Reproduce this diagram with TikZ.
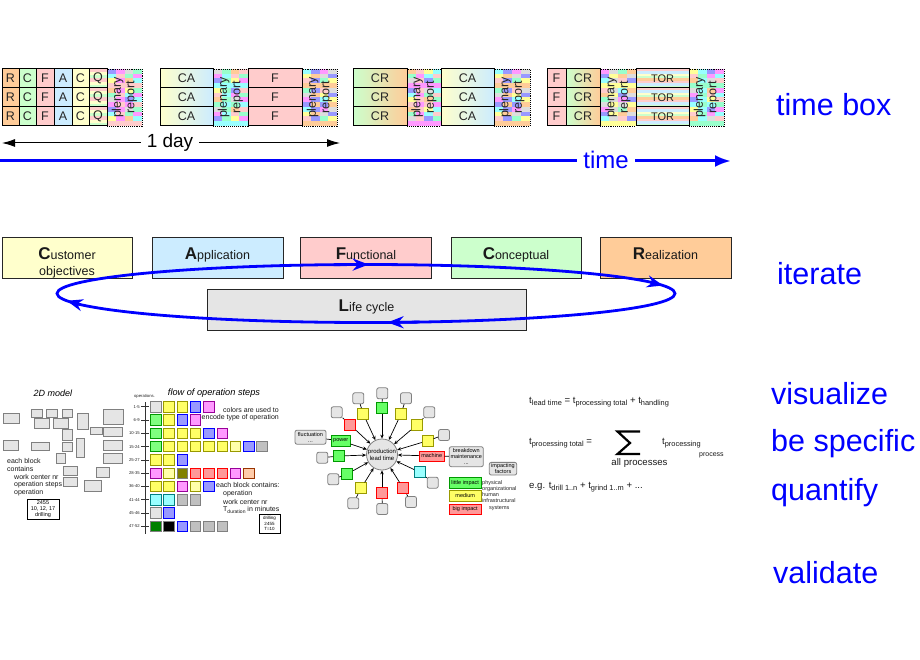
\documentclass[tikz,border=0pt]{standalone}
\usepackage{fontspec}
\setmainfont{Liberation Sans}
\usetikzlibrary{arrows.meta}

\definecolor{cR}{HTML}{FFCC99}
\definecolor{cC}{HTML}{CCFFCC}
\definecolor{cF}{HTML}{FFCCCC}
\definecolor{cA}{HTML}{CCECFF}
\definecolor{cY}{HTML}{FFFFCC}
\definecolor{cL}{HTML}{E5E5E5}
\definecolor{bl}{HTML}{0000FF}
\definecolor{gb}{HTML}{808080}
\definecolor{pc0}{HTML}{FF99FF}
\definecolor{pc1}{HTML}{FFFF99}
\definecolor{pc2}{HTML}{99FFCC}
\definecolor{pc3}{HTML}{9999FF}
\definecolor{pc4}{HTML}{FFCCCC}
\definecolor{pc5}{HTML}{DDDDDD}
\definecolor{pc6}{HTML}{99FFFF}
\definecolor{pc7}{HTML}{FFCC99}
\definecolor{fY}{HTML}{FFFF66}
\definecolor{fYd}{HTML}{999900}
\definecolor{fLY}{HTML}{FFFFAA}
\definecolor{fG}{HTML}{80FF80}
\definecolor{fGd}{HTML}{009900}
\definecolor{fB}{HTML}{9999FF}
\definecolor{fBd}{HTML}{0000FF}
\definecolor{fP}{HTML}{FF99FF}
\definecolor{fPd}{HTML}{990099}
\definecolor{fGr}{HTML}{C0C0C0}
\definecolor{fR}{HTML}{FF9999}
\definecolor{fRd}{HTML}{FF0000}
\definecolor{fS}{HTML}{FFCCAA}
\definecolor{fSd}{HTML}{993300}
\definecolor{fO}{HTML}{808000}
\definecolor{fDG}{HTML}{008000}
\definecolor{fCy}{HTML}{99FFFF}
\definecolor{fCyd}{HTML}{008080}
\definecolor{stG}{HTML}{66FF66}

\newcommand\cellbox[7]{\node[cell,#6,minimum width={#4-#2},minimum height={#5-#3},anchor=north west] (#1) at (#2,#3) {#7};}
\newcommand\hstripes[6]{%
  \foreach \cc [count=\k from 0] in {#6}{%
    \fill[fill=\cc] (#1,{#2+(#4-#2)*\k/#5}) rectangle (#3,{#2+(#4-#2)*(\k+1)/#5});
  }}
\newcommand\plenary[5]{%
  \begin{scope}
    \clip (#1,#2) rectangle (#3,#4);
    \foreach \i in {0,...,3}{\foreach \j in {0,...,11}{%
      \pgfmathtruncatemacro\kk{mod(\i*5+\j*3+\i*\j+#1,8)}%
      \fill[fill=pc\kk] ({#1+\i*(#3-#1)/4},{#2+\j*(#4-#2)/12}) rectangle ({#1+(\i+1)*(#3-#1)/4},{#2+(\j+1)*(#4-#2)/12});
    }}
  \end{scope}
  \node[plen, minimum width={#3-#1}, minimum height={#4-#2}, anchor=north west] (#5) at (#1,#2) {};
  \node[pltext, rotate=90] (#5t) at ({(#1+#3)/2},{(#2+#4)/2}) {plenary\\report};
}
\newcommand\ini[1]{{\fontsize{17}{17}\selectfont\bfseries #1}}
\newcommand\fsub[1]{\raisebox{-2.6pt}{\fontsize{7.4}{8}\selectfont #1}}
\newcommand\tsub[1]{\raisebox{-1.8pt}{\fontsize{5}{6}\selectfont #1}}
\newcommand\fsq[3]{\draw[#3] ({150.5+13.3*#1},{401.5+13.3*#2}) rectangle ++(10.5,10.5);}
\newcommand\stf{\fontsize{5.5}{6.25}\selectfont}
\newcommand\elco[2]{\coordinate (#1) at ({366+309*cos(#2)},{293.5+29*sin(#2)});}

\begin{document}
\begin{tikzpicture}[x=1pt,y=-1pt,
  cell/.style={draw=black, line width=1pt, inner sep=0pt, outer sep=0pt, text=black!85, font=\fontsize{12.5}{14}\selectfont},
  plen/.style={draw=black, densely dotted, line width=0.9pt, inner sep=0pt, outer sep=0pt},
  pltext/.style={font=\fontsize{12.5}{13.5}\selectfont, align=center, inner sep=0pt, text=black!85},
  mbox/.style={draw=black!85, line width=1pt, inner sep=0pt, anchor=north west},
  mtxt/.style={font=\fontsize{12.5}{14}\selectfont, anchor=base, inner sep=0pt, text=black!90},
  bigword/.style={font=\fontsize{30.5}{34}\selectfont, text=bl, anchor=base west, inner sep=0pt},
  grect/.style={fill=cL, draw=gb, line width=1pt},
  small/.style={font=\fontsize{7}{8}\selectfont, inner sep=0pt, text=black!90},
  tiny/.style={font=\fontsize{4.2}{5}\selectfont, inner sep=0pt, text=black!85},
  qLG/.style={fill=cL, draw=gb, line width=1pt},
  qY/.style={fill=fY, draw=fYd, line width=1pt},
  qLY/.style={fill=fLY, draw=fYd, line width=1pt},
  qG/.style={fill=fG, draw=fGd, line width=1pt},
  qB/.style={fill=fB, draw=fBd, line width=1pt},
  qP/.style={fill=fP, draw=fPd, line width=1pt},
  qGr/.style={fill=fGr, draw=gb, line width=1pt},
  qR/.style={fill=fR, draw=fRd, line width=1pt},
  qS/.style={fill=fS, draw=fSd, line width=1pt},
  qO/.style={fill=fO, draw=gb, line width=1pt},
  qDG/.style={fill=fDG, draw=gb, line width=1pt},
  qK/.style={fill=black, draw=gb, line width=1pt},
  qC/.style={fill=fCy, draw=fCyd, line width=1pt},
  sgG/.style={draw=fGd, fill=stG, minimum size=11pt, inner sep=0pt, line width=0.8pt, font=\stf},
  sgY/.style={draw=fYd, fill=fY, minimum size=11pt, inner sep=0pt, line width=0.8pt, font=\stf},
  sgR/.style={draw=fRd, fill=fR, minimum size=11pt, inner sep=0pt, line width=0.8pt, font=\stf},
  sgC/.style={draw=fCyd, fill=fCy, minimum size=11pt, inner sep=0pt, line width=0.8pt},
  sgray/.style={draw=gb, fill=cL, rounded corners=2pt, minimum size=11pt, inner sep=0pt, line width=0.8pt, font=\stf, align=center},
  sline/.style={draw=black, line width=0.7pt},
  sarr/.style={draw=black, line width=0.7pt, -{Stealth[length=4pt,width=3.5pt]}},
  ftxt/.style={font=\fontsize{9.6}{11}\selectfont, inner sep=0pt, anchor=west, text=black!90},
  elarr/.style={bl, line width=2.8pt, -{Stealth[length=16pt,width=12pt]}}
]
\useasboundingbox (0,0) rectangle (920,660);
\fill[white] (0,0) rectangle (920,660);

% ---------------- time boxes ----------------
\plenary{107}{69}{142}{126}{p1}
\plenary{213}{69}{248}{126}{p2}
\plenary{302}{69}{337}{126}{p3}
\plenary{407}{69}{441}{126}{p4}
\plenary{494}{69}{530}{126}{p5}
\plenary{600}{69}{636}{126}{p6}
\plenary{689}{69}{724}{126}{p7}
\foreach \ya/\yb/\r in {69/88/1,88/107/2,107/126/3}{%
  \hstripes{89}{\ya}{107}{\yb}{6}{cF,cY,cC,cF,cY,cC}
  \hstripes{636}{\ya}{689}{\yb}{8}{cF,cA,cY,cC,cR,cF,cA,cC}
  \cellbox{aR\r}{2}{\ya}{19}{\yb}{fill=cR}{R}
  \cellbox{aC\r}{19}{\ya}{36}{\yb}{fill=cC}{C}
  \cellbox{aF\r}{36}{\ya}{54}{\yb}{fill=cF}{F}
  \cellbox{aA\r}{54}{\ya}{72}{\yb}{fill=cA}{A}
  \cellbox{aY\r}{72}{\ya}{89}{\yb}{fill=cY}{C}
  \cellbox{aQ\r}{89}{\ya}{107}{\yb}{}{Q}
  \cellbox{bCA\r}{160}{\ya}{213}{\yb}{left color=cY,right color=cA}{CA}
  \cellbox{bF\r}{248}{\ya}{302}{\yb}{fill=cF}{F}
  \cellbox{cCR\r}{353}{\ya}{407}{\yb}{left color=cC,right color=cR}{CR}
  \cellbox{cCA\r}{441}{\ya}{494}{\yb}{left color=cY,right color=cA}{CA}
  \cellbox{dF\r}{547}{\ya}{566}{\yb}{fill=cF}{F}
  \cellbox{dCR\r}{566}{\ya}{600}{\yb}{left color=cC,right color=cR}{CR}
  \cellbox{dT\r}{636}{\ya}{689}{\yb}{font=\fontsize{11}{12}\selectfont}{TOR}
}

% 1 day
\coordinate (d0) at (2,143);
\coordinate (d1) at (340,143);
\draw[line width=1pt, {Latex[length=13pt,width=8pt]}-{Latex[length=13pt,width=8pt]}] (d0) -- (d1);
\node[fill=white, inner xsep=6pt, inner ysep=1pt, font=\fontsize{19}{22}\selectfont] (oneday) at (170,143) {1 day};

% time
\coordinate (t0) at (0,161);
\coordinate (t1) at (731,161);
\draw[bl, line width=3pt, -{Latex[length=16pt,width=12pt]}] (t0) -- (t1);
\node[fill=white, text=bl, inner xsep=6pt, inner ysep=1pt, font=\fontsize{24}{26}\selectfont] (timelbl) at (606,160) {time};

% ---------------- iterate ----------------
\node[mbox, fill=cY, minimum width=130pt, minimum height=41pt] (cust) at (2,237) {};
\node[mbox, fill=cA, minimum width=131pt, minimum height=41pt] (appl) at (152,237) {};
\node[mbox, fill=cF, minimum width=131pt, minimum height=41pt] (func) at (300,237) {};
\node[mbox, fill=cC, minimum width=130pt, minimum height=41pt] (conc) at (451,237) {};
\node[mbox, fill=cR, minimum width=131pt, minimum height=41pt] (real) at (600,237) {};
\node[mbox, fill=cL, minimum width=319pt, minimum height=41pt] (life) at (207,289) {};
\node[mtxt] (custa) at (67,259) {\ini{C}ustomer};
\node[mtxt] (custb) at (67,276) {objectives};
\node[mtxt] (applt) at (217.5,259) {\ini{A}pplication};
\node[mtxt] (funct) at (366,259) {\ini{F}unctional};
\node[mtxt] (conct) at (516,259) {\ini{C}onceptual};
\node[mtxt] (realt) at (665.5,259) {\ini{R}ealization};
\node[mtxt] (lifet) at (366.5,311) {\ini{L}ife cycle};

\coordinate (ec) at (366,293.5);
\draw[bl, line width=2.8pt] (ec) ellipse [x radius=309pt, y radius=29pt];
\elco{ea0}{264}
\elco{ea1}{270.5}
\elco{eb0}{337}
\elco{eb1}{344}
\elco{ec0}{80}
\elco{ec1}{86}
\elco{ed0}{158}
\elco{ed1}{165.5}
\draw[elarr] (ea0) -- (ea1);
\draw[elarr] (eb0) -- (eb1);
\draw[elarr] (ec0) -- (ec1);
\draw[elarr] (ed0) -- (ed1);

% ---------------- 2D model ----------------
\node[font=\fontsize{9}{10}\selectfont\itshape, inner sep=0pt] (m2dt) at (53,393) {2D model};
\foreach \a/\b/\c/\d in {3/413/19/423, 31/409/42/417, 46/409/57/417, 62/409/72/417,
  34/418/49/428, 53/418/68/428, 77/413/88/429, 103/409/123/424, 90/427/102/434,
  103/427/122/436, 62/429/72/440, 3/440/18/450, 31/442/49/450, 62/442/72/451,
  76/438/84/457, 103/440/122/450, 56/453/65/463, 103/453/122/463, 63/466/77/475,
  96/467/109/477, 63/477/77/486, 84/480/101/491}{%
  \draw[grect] (\a,\b) rectangle (\c,\d);
}
\node[small, anchor=west] (m2a) at (7,461) {each block};
\node[small, anchor=west] (m2b) at (7,469) {contains};
\node[small, anchor=west] (m2c) at (14,477) {work center nr};
\node[small, anchor=west] (m2d) at (14,485) {operation steps};
\node[small, anchor=west] (m2e) at (14,493) {operation};
\node[draw=black, line width=1pt, minimum width=32pt, minimum height=20pt, inner sep=0pt, align=center,
  font=\fontsize{5.5}{6}\selectfont] (m2box) at (43,509) {2455\\10, 12, 17\\drilling};

% ---------------- flow of operation steps ----------------
\node[font=\fontsize{9.2}{10}\selectfont\itshape, inner sep=0pt] (flt) at (214,393) {flow of operation steps};
\node[tiny] (opsl) at (144.5,396) {operations.};
\draw[line width=0.9pt, black!80] (145,402) -- (145,534);
\foreach \l [count=\r from 0] in {1-5,6-9,10-15,15-24,25-27,28-35,36-40,41-44,45-46,47-52}{%
  \draw[line width=0.9pt, black!80] (141,{406.75+13.3*\r}) -- (149,{406.75+13.3*\r});
  \node[tiny, anchor=east] (rl\r) at (140,{406.75+13.3*\r}) {\l};
}
\fsq{0}{0}{qLG}\fsq{1}{0}{qY}\fsq{2}{0}{qY}\fsq{3}{0}{qB}\fsq{4}{0}{qP}
\fsq{0}{1}{qG}\fsq{1}{1}{qY}\fsq{2}{1}{qB}\fsq{3}{1}{qP}
\fsq{0}{2}{qG}\fsq{1}{2}{qY}\fsq{2}{2}{qY}\fsq{3}{2}{qY}\fsq{4}{2}{qB}\fsq{5}{2}{qP}
\fsq{0}{3}{qG}\fsq{1}{3}{qY}\fsq{2}{3}{qY}\fsq{3}{3}{qY}\fsq{4}{3}{qY}\fsq{5}{3}{qY}\fsq{6}{3}{qLY}\fsq{7}{3}{qB}\fsq{8}{3}{qGr}
\fsq{0}{4}{qY}\fsq{1}{4}{qY}\fsq{2}{4}{qB}
\fsq{0}{5}{qP}\fsq{1}{5}{qLY}\fsq{2}{5}{qO}\fsq{3}{5}{qR}\fsq{4}{5}{qR}\fsq{5}{5}{qR}\fsq{6}{5}{qP}\fsq{7}{5}{qS}
\fsq{0}{6}{qY}\fsq{1}{6}{qY}\fsq{2}{6}{qP}\fsq{3}{6}{qLY}\fsq{4}{6}{qB}
\fsq{0}{7}{qC}\fsq{1}{7}{qC}\fsq{2}{7}{qGr}\fsq{3}{7}{qGr}
\fsq{0}{8}{qLG}\fsq{1}{8}{qB}
\fsq{0}{9}{qDG}\fsq{1}{9}{qK}\fsq{2}{9}{qB}\fsq{3}{9}{qGr}\fsq{4}{9}{qGr}\fsq{5}{9}{qGr}
\node[small, anchor=east] (fla) at (279,410) {colors are used to};
\node[small, anchor=east] (flb) at (279,418) {encode type of operation};
\node[small, anchor=west] (flc) at (216,485) {each block contains:};
\node[small, anchor=west] (fld) at (223,494) {operation};
\node[small, anchor=west] (fle) at (223,502) {work center nr};
\node[small, anchor=west] (flf) at (223,510) {T\tsub{duration} in minutes};
\node[draw=black, line width=1pt, minimum width=21pt, minimum height=19pt, inner sep=0pt, align=center,
  font=\fontsize{4.5}{5.5}\selectfont] (flbox) at (269.5,523.5) {drilling\\2455\\T=10};

% ---------------- star diagram ----------------
\node[circle, draw=gb, fill=cL, line width=0.8pt, minimum size=31pt, inner sep=0pt, align=center,
  font=\fontsize{6}{7}\selectfont] (pc) at (382,454.5) {production\\lead time};
\node[sgG] (s1) at (382,408.3) {};
\node[sgY] (s2) at (363.3,414) {};
\node[sgR] (s3) at (350,424.7) {};
\node[sgG, minimum width=19pt] (s4) at (340.7,440.7) {power};
\node[sgG] (s5) at (339,456) {};
\node[sgG] (s6) at (347.3,474) {};
\node[sgY] (s7) at (361,488.3) {};
\node[sgR] (s8) at (382,493.3) {};
\node[sgR] (s9) at (403.3,488.3) {};
\node[sgC] (s10) at (420,472.3) {};
\node[sgR, minimum width=25pt, minimum height=10pt] (s11) at (431.7,456) {machine};
\node[sgY] (s12) at (427.7,440.7) {};
\node[sgY] (s13) at (416.7,425) {};
\node[sgY] (s14) at (401,414) {};
\node[sgray] (g1) at (382.3,393.3) {};
\node[sgray] (g2) at (358.3,398.3) {};
\node[sgray] (g3) at (336.7,412.3) {};
\node[sgray, minimum width=31pt, minimum height=14pt] (g4) at (310.5,437.2) {fluctuation\\...};
\node[sgray] (g5) at (322.3,457.7) {};
\node[sgray] (g6) at (333.3,479.3) {};
\node[sgray] (g7) at (353.3,503.3) {};
\node[sgray] (g8) at (382.3,509) {};
\node[sgray] (g9) at (411,502) {};
\node[sgray] (g10) at (432.7,482.7) {};
\node[sgray, minimum width=34pt, minimum height=20pt] (g11) at (466.3,456.7) {breakdown\\maintenance\\...};
\node[sgray] (g12) at (444,435) {};
\node[sgray] (g13) at (429.3,412.3) {};
\node[sgray] (g14) at (406,398.3) {};
\foreach \i in {1,...,14}{%
  \draw[sline] (g\i) -- (s\i);
  \draw[sarr] (s\i) -- (pc);
}
\node[sgray, minimum width=27.4pt, minimum height=12.7pt] (ifac) at (503,468.7) {impacting\\factors};
\node[sgG, minimum width=31.7pt, minimum height=10.6pt] (leg1) at (465.2,483) {little impact};
\node[sgY, minimum width=31.7pt, minimum height=10.6pt] (leg2) at (465.2,495.8) {medium};
\node[sgR, minimum width=31.7pt, minimum height=10.6pt] (leg3) at (465.2,509.3) {big impact};
\node[font=\stf, align=left, anchor=north west, inner sep=0pt, text=black!85] (legt) at (482,480)
  {physical\\organizational\\human\\infrastructural\\\hspace*{7pt}systems};

% ---------------- formulas ----------------
\node[ftxt] (f1) at (529,402) {t\fsub{lead time} = t\fsub{processing total} + t\fsub{handling}};
\node[ftxt] (f2) at (529,443) {t\fsub{processing total} =};
\draw[line width=2.2pt, miter limit=10] (640,431.5) -- (617.5,431.5) -- (630,443) -- (617.5,454) -- (640,454);
\node[ftxt, anchor=center] (f2s) at (639.5,463) {all processes};
\node[ftxt] (f2b) at (662,443) {t\fsub{processing}};
\node[ftxt, font=\fontsize{7}{8}\selectfont] (f2c) at (699,455) {process};
\node[ftxt] (f3) at (529,487) {e.g. t\fsub{drill 1..n} + t\fsub{grind 1..m} + ...};

% ---------------- keywords ----------------
\node[bigword] (w1) at (776,116) {time box};
\node[bigword] (w2) at (777,284) {iterate};
\node[bigword] (w3) at (771,404) {visualize};
\node[bigword] (w4) at (771,451) {be specific};
\node[bigword] (w5) at (771,500) {quantify};
\node[bigword] (w6) at (773,583) {validate};
\end{tikzpicture}
\end{document}
